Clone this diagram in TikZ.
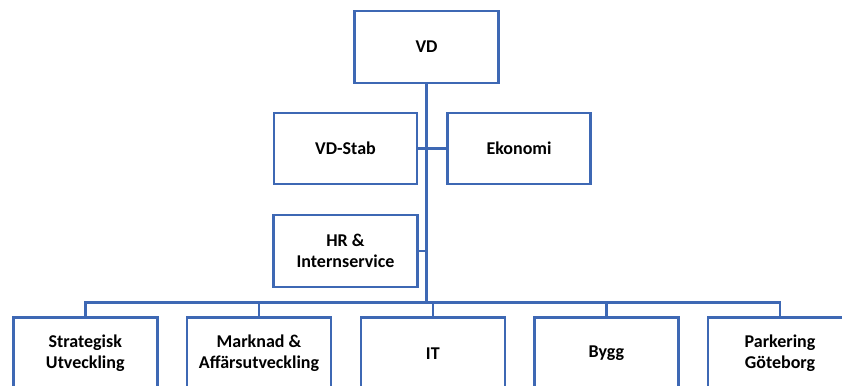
\documentclass[tikz,border=0pt]{standalone}
\usepackage{fontspec}
\setmainfont{Carlito}
\definecolor{boxblue}{RGB}{62,104,180}
\begin{document}
\begin{tikzpicture}[x=1pt,y=-1pt,
  orgbox/.style={draw=boxblue, line width=2.5pt, fill=white, minimum width=144pt, minimum height=72pt,
    inner sep=2pt, align=center, font=\bfseries\fontsize{18}{21.5}\selectfont, text=black},
  conn/.style={draw=boxblue, line width=2.5pt}]
\path[use as bounding box, fill=white] (0,0) rectangle (842,385);
\node[orgbox] (vd) at (426.5,47) {VD};
\node[orgbox, minimum width=143pt, minimum height=71pt] (stab) at (345.5,148.7) {VD-Stab};
\node[orgbox, minimum width=143pt, minimum height=71pt] (eko) at (519,148.7) {Ekonomi};
\node[orgbox] (hr) at (345.5,251) {HR \&\\Internservice};
\node[orgbox] (b1) at (85.3,353.3) {Strategisk\\Utveckling};
\node[orgbox] (b2) at (259,353.3) {Marknad \&\\Affärsutveckling};
\node[orgbox] (b3) at (432.8,353.3) {IT};
\node[orgbox] (b4) at (606.3,353.3) {Bygg};
\node[orgbox] (b5) at (780,353.3) {Parkering\\Göteborg};
\coordinate (bus) at (426.5,302.7);
\draw[conn] (vd.south) -- (vd.south |- bus);
\draw[conn] (stab.east) -- (stab.east -| vd.south);
\draw[conn] (eko.west) -- (eko.west -| vd.south);
\draw[conn] (hr.east) -- (hr.east -| vd.south);
\draw[conn] (b1.north) |- (bus) -| (b5.north);
\draw[conn] (b2.north) -- (b2.north |- bus);
\draw[conn] (b3.north) -- (b3.north |- bus);
\draw[conn] (b4.north) -- (b4.north |- bus);
\end{tikzpicture}
\end{document}
